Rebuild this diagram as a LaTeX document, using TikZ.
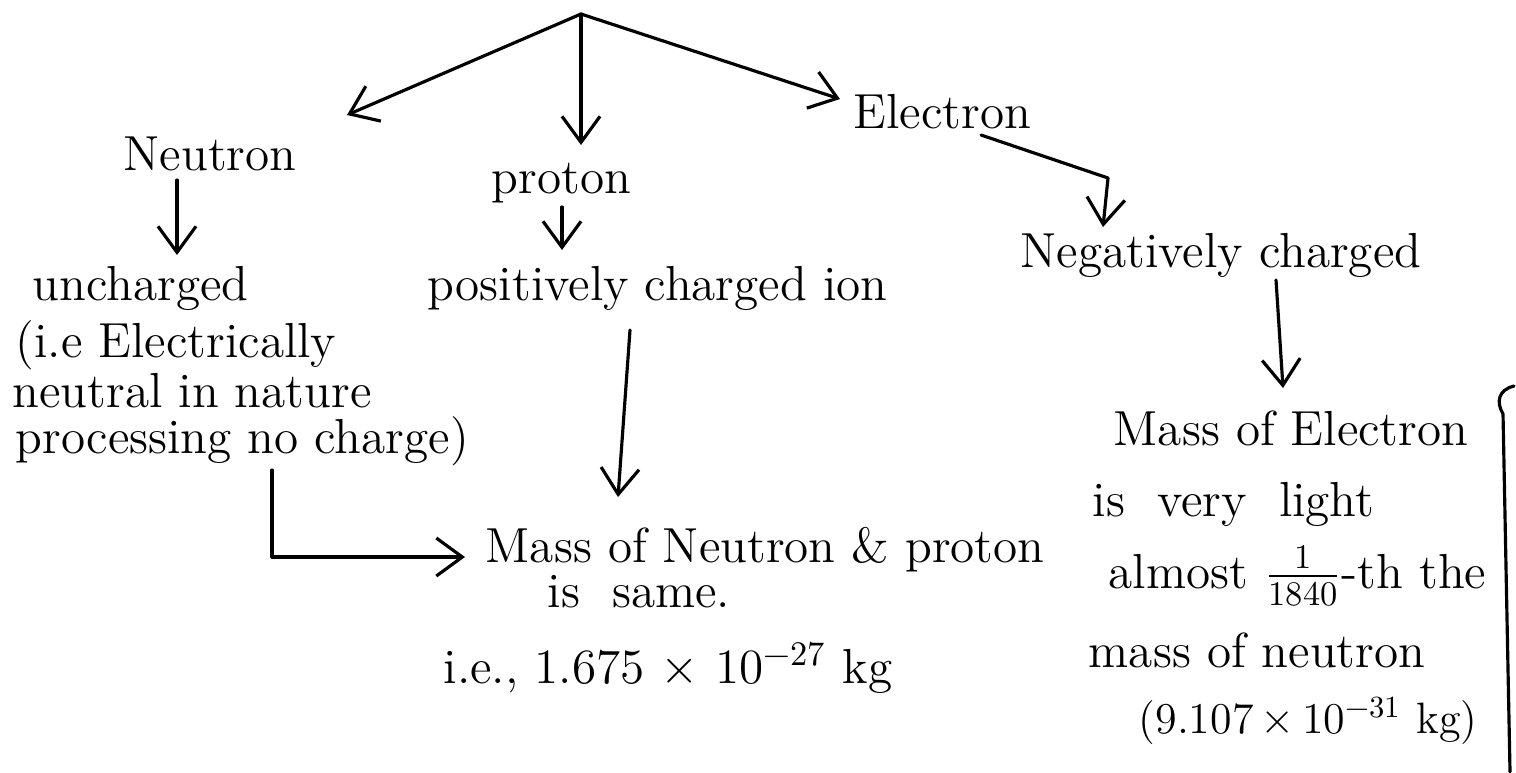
\documentclass[tikz,border=0pt]{standalone}
\usepackage{fontspec}
\usepackage{unicode-math}
\usepackage{tikz}
\usetikzlibrary{arrows.meta}

\begin{document}
\begin{tikzpicture}[x=0.01cm,y=-0.01cm,>={Straight Barb[length=2.6mm,width=3.8mm]},line cap=round,line join=round,
  hand/.style={font=\fontsize{14}{16}\selectfont,inner sep=0pt,anchor=base west},
  link/.style={->,line width=0.9pt}]
\useasboundingbox (0,0) rectangle (1516,772);
% the three particles
\coordinate (top) at (581,14);
\node[hand] (neutron) at (123,170) {Neutron};
\node[hand] (proton) at (491,193) {proton};
\node[hand] (electron) at (853,128) {Electron};
% neutron column
\node[hand] (unch) at (32,300) {uncharged};
\node[hand] (ie1) at (15,357) {(i.e Electrically};
\node[hand] (ie2) at (12,407) {neutral in nature};
\node[hand] (ie3) at (15,453) {processing no charge)};
% proton column
\node[hand] (posion) at (427,300) {positively charged ion};
\node[hand] (masspn) at (485,562) {Mass of Neutron \& proton};
\node[hand] (same) at (547,607) {is\ \ same.};
\node[hand] (val1) at (443,683) {i.e., 1.675 $\times$ 10$^{-27}$ kg};
% electron column
\node[hand] (negch) at (1020,267) {Negatively charged};
\node[hand] (masse) at (1113,445) {Mass of Electron};
\node[hand] (light) at (1092,516) {is\ \ very\ \ light};
\node[hand] (almost) at (1108,588) {almost $\frac{1}{1840}$-th the};
\node[hand] (massn) at (1088,667) {mass of neutron};
\node[hand,font=\fontsize{12.5}{15}\selectfont] (val2) at (1138,733) {(9.107\,${\times}$\,10$^{-31}$ kg)};

% arrows
\draw[link] (top) -- ([shift={(224,-55)}]neutron.base west);
\draw[link] (top) -- ([shift={(90,-48)}]proton.base west);
\draw[link] (top) -- ([shift={(-13,-29)}]electron.base west);
\draw[link] ([shift={(54,10)}]neutron.base west) -- ([shift={(145,-45)}]unch.base west);
\draw[link] ([shift={(71,14)}]proton.base west) -- ([shift={(135,-50)}]posion.base west);
\draw[link] ([shift={(203,30)}]posion.base west) -- ([shift={(133,-65)}]masspn.base west);
\draw[link] ([shift={(257,17)}]ie3.base west) |- ([shift={(-20,-5)}]masspn.base west);
\draw[link] ([shift={(128,7)}]electron.base west) -- ++(127,43) -- ([shift={(83,-40)}]negch.base west);
\draw[link] ([shift={(256,13)}]negch.base west) -- ([shift={(170,-57)}]masse.base west);
% brace stroke at the right edge
\draw[line width=0.9pt] (1514,386) .. controls (1498,390) and (1496,402) .. (1503,414) -- (1510,772);
\end{tikzpicture}
\end{document}
